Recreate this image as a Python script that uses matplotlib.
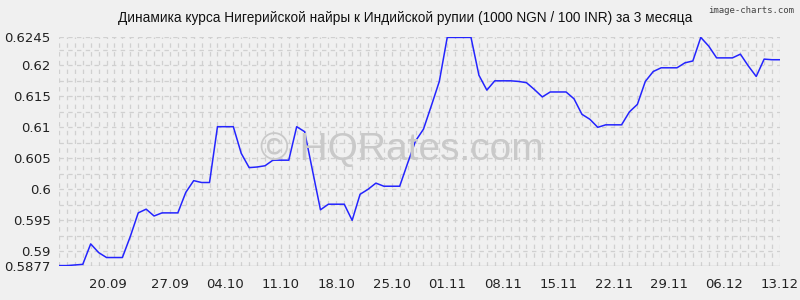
import matplotlib
matplotlib.use("Agg")
import matplotlib.pyplot as plt
import matplotlib.transforms as mtransforms
import numpy as np

# ---- data ----
title = "Динамика курса Нигерийской найры к Индийской рупии (1000 NGN / 100 INR) за 3 месяца"
days = list(range(92))  # 13.09 .. 13.12
rates = [
    0.5877, 0.5877, 0.5878, 0.5879, 0.5912, 0.5898, 0.5890, 0.5890, 0.5890, 0.5924,
    0.5962, 0.5968, 0.5957, 0.5962, 0.5962, 0.5962, 0.5995, 0.6014, 0.6011, 0.6011,
    0.6101, 0.6101, 0.6101, 0.6058, 0.6035, 0.6036, 0.6038, 0.6047, 0.6047, 0.6047,
    0.6101, 0.6093, 0.6030, 0.5967, 0.5976, 0.5976, 0.5976, 0.5950, 0.5992, 0.6000,
    0.6010, 0.6005, 0.6005, 0.6005, 0.6042, 0.6078, 0.6097, 0.6135, 0.6174, 0.6245,
    0.6245, 0.6245, 0.6245, 0.6184, 0.6160, 0.6175, 0.6175, 0.6175, 0.6174, 0.6172,
    0.6161, 0.6149, 0.6157, 0.6157, 0.6157, 0.6146, 0.6121, 0.6113, 0.6100, 0.6104,
    0.6104, 0.6104, 0.6125, 0.6137, 0.6174, 0.6190, 0.6196, 0.6196, 0.6196, 0.6204,
    0.6207, 0.6245, 0.6231, 0.6212, 0.6212, 0.6212, 0.6218, 0.6199, 0.6182, 0.6210,
    0.6209, 0.6209,
]
xtick_days = [7, 14, 21, 28, 35, 42, 49, 56, 63, 70, 77, 84, 91]
xtick_labels = ["20.09", "27.09", "04.10", "11.10", "18.10", "25.10", "01.11",
                "08.11", "15.11", "22.11", "29.11", "06.12", "13.12"]
ytick_values = [0.5877, 0.59, 0.595, 0.6, 0.605, 0.61, 0.615, 0.62, 0.6245]
ytick_labels = ["0.5877", "0.59", "0.595", "0.6", "0.605", "0.61", "0.615", "0.62", "0.6245"]
ymin, ymax = 0.5877, 0.6245

# ---- figure ----
bg = "#f0f0f0"
grid_c = "#d0d0d0"
fig = plt.figure(figsize=(8, 3), dpi=100, facecolor=bg)
ax = fig.add_axes([0.07375, 0.1147, 0.975 - 0.07375, 0.8753 - 0.1147])
ax.set_facecolor(bg)
plt.rcParams['font.family'] = ['Liberation Sans', 'DejaVu Sans']

ax.set_xlim(0, 91)
ax.set_ylim(ymin, ymax)

# grid: vertical daily dashed lines, horizontal dashed every 0.0025
for d in days:
    ax.axvline(d, color=grid_c, lw=0.9, dashes=(3.5, 3.5), zorder=1)
for yv in list(np.arange(0.59, 0.6226, 0.0025)) + [ymax]:
    ax.axhline(yv, color=grid_c, lw=0.9, dashes=(3.5, 3.5), zorder=1)
ax.axhline(ymin, color="#c0c0c0", lw=1.0, zorder=1)

for s in ax.spines.values():
    s.set_visible(False)

# watermark
fig.text(0.502, 0.5, "© HQRates.com", fontsize=28, color="#c9c9c9",
         ha="center", va="center", family=["Liberation Sans", "DejaVu Sans"], zorder=0)

ax.plot(days, rates, color="#2424ff", lw=1.1, zorder=3)

ax.set_xticks(xtick_days)
ax.set_xticklabels(xtick_labels, fontsize=9.5, color="#222222")
ax.set_yticks(ytick_values)
ax.set_yticklabels(ytick_labels, fontsize=9.5, color="#222222")
ax.tick_params(length=0, pad=6)
ax.tick_params(axis="x", pad=9)

# first date label sits slightly left in the original
lbl0 = ax.get_xticklabels()[0]
lbl0.set_transform(lbl0.get_transform() + mtransforms.ScaledTranslation(-7 / 100, 0, fig.dpi_scale_trans))

fig.text(0.507, 0.94, title, fontsize=9.8, color="#111111", ha="center", va="center")
fig.text(0.993, 0.965, "image-charts.com", fontsize=6.5, color="#444444",
         ha="right", va="center", family="DejaVu Sans Mono")

fig.savefig("out.png", dpi=100, facecolor=bg)
